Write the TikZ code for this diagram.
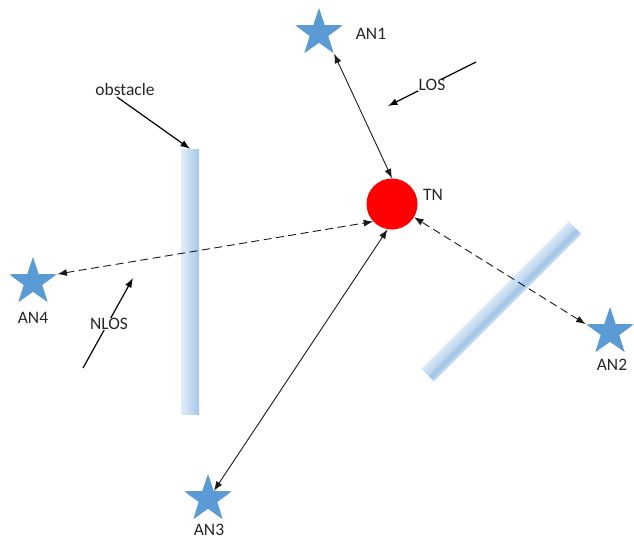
\documentclass[tikz,border=0pt]{standalone}
\usepackage{fontspec}
\setmainfont{Carlito}
\usetikzlibrary{shapes.geometric,arrows.meta}
\definecolor{starblue}{HTML}{5B9BD5}
\definecolor{obsl}{HTML}{E2EDF8}
\definecolor{obsm}{HTML}{C3DAF0}
\definecolor{obsd}{HTML}{A6C7E8}
\definecolor{linec}{HTML}{1A1A1A}
\tikzset{
  anstar/.style={star, star points=5, star point ratio=2.55, minimum size=50pt, inner sep=0pt, fill=starblue, draw=none},
  lbl/.style={font=\fontsize{17.5}{20}\selectfont, text=black!85, inner sep=1pt},
  obst/.style={draw=none, inner sep=0pt, minimum height=18pt},
  conn/.style={draw=linec, line width=0.9pt, {Latex[length=9.5pt,width=7pt]}-{Latex[length=9.5pt,width=7pt]}},
  dconn/.style={conn, dash pattern=on 8pt off 4.5pt},
  pointer/.style={draw=black, line width=1.2pt, -{Latex[length=9.5pt,width=7pt]}},
}
\begin{document}
\begin{tikzpicture}[x=1pt,y=-1pt]
\useasboundingbox (0,0) rectangle (634,542);
% obstacles
\node[obst, minimum width=18pt, minimum height=265pt, left color=obsl, right color=obsd, middle color=obsm] (obs1) at (190,281.5) {};
\foreach \w/\o/\c in {18/0/obsl!70!obsm, 15/1.2/obsl!30!obsm, 11/2.5/obsm, 7/3.5/obsm!40!obsd, 4/4/obsd} {
  \draw[line width=\w pt, draw=\c, line cap=butt] (428+0.707*\o,375+0.707*\o) -- (575+0.707*\o,228+0.707*\o);
}
% target node
\node[circle, fill=red, minimum size=51pt, inner sep=0pt] (TN) at (392,204) {};
\node[lbl] (TNl) at (433,195) {TN};
% anchors
\node[anstar] (AN1) at (319,33) {};
\node[anstar] (AN2) at (610,332) {};
\node[anstar] (AN3) at (208,499) {};
\node[anstar] (AN4) at (33,282) {};
\node[lbl] (AN1l) at (371,34) {AN1};
\node[lbl] (AN2l) at (612,365) {AN2};
\node[lbl] (AN3l) at (209,530) {AN3};
\node[lbl] (AN4l) at (33,318) {AN4};
% connectors
\draw[conn] (AN1.outer point 4) -- (TN.north);
\draw[dconn] (AN4.outer point 5) -- (TN.223);
\draw[dconn] (AN2.outer point 2) -- (TN.-31);
\draw[conn] (AN3.inner point 5) -- (TN.-100);
% pointers
\coordinate (obsstart) at (117,97);
\node[lbl] (obsl) at (125,89) {obstacle};
\draw[pointer] (obsstart) -- (obs1.north);
\coordinate (losstart) at (476,62);
\coordinate (losend) at (388,106);
\draw[pointer] (losstart) -- (losend);
\node[lbl, fill=white, inner sep=0.5pt] (losl) at (432,85) {LOS};
\coordinate (nlosstart) at (83,368);
\coordinate (nlosend) at (133,278);
\draw[pointer] (nlosstart) -- (nlosend);
\node[lbl, fill=white, inner sep=0.5pt] (nlosl) at (109,324) {NLOS};
\end{tikzpicture}
\end{document}
